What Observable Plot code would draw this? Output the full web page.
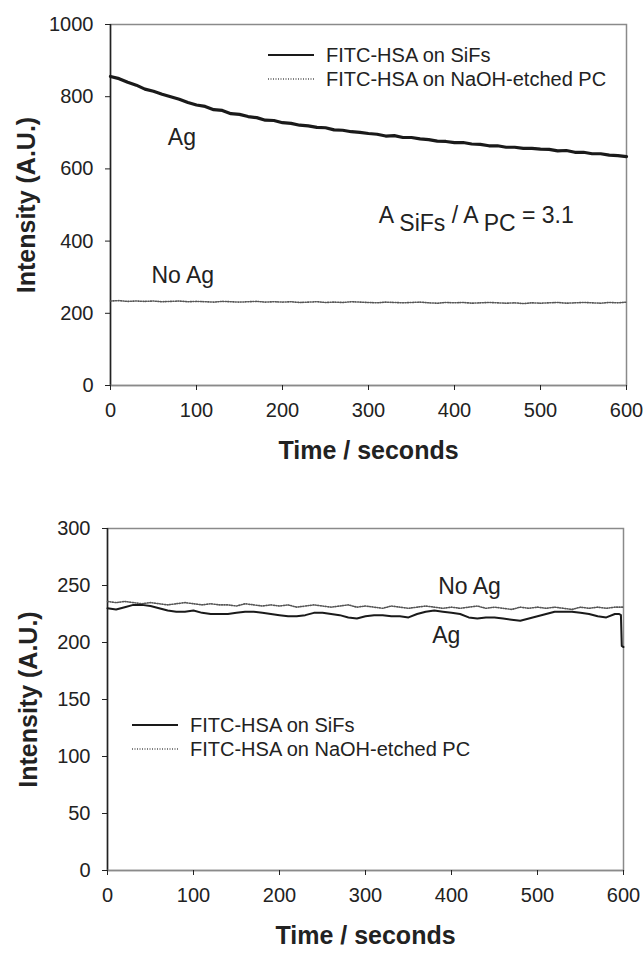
<!DOCTYPE html>
<html>
<head>
<meta charset="utf-8">
<script src="https://cdn.jsdelivr.net/npm/d3@7"></script>
<script src="https://cdn.jsdelivr.net/npm/@observablehq/plot@0.6"></script>
<style>
  body { margin: 0; background: #fff; }
  #wrap { position: relative; width: 643px; height: 966px; font-family: "Liberation Sans", Arial, sans-serif; color: #222; }
  .legend { position: absolute; font-size: 20px; line-height: 24px; color: #222; }
  .legend .row { display: flex; align-items: center; white-space: nowrap; }
  .legend svg { margin-right: 12px; }
</style>
</head>
<body>
<div id="wrap"></div>
<script>
// ---------- data ----------
const xTicks = [0, 100, 200, 300, 400, 500, 600];
const yTicksTop = [0, 200, 400, 600, 800, 1000];
const yTicksBottom = [0, 50, 100, 150, 200, 250, 300];
const seriesNames = ["FITC-HSA on SiFs", "FITC-HSA on NaOH-etched PC"];

const timeTop = [0,10,20,30,40,50,60,70,80,90,100,110,120,130,140,150,160,170,180,190,200,210,220,230,240,250,260,270,280,290,300,310,320,330,340,350,360,370,380,390,400,410,420,430,440,450,460,470,480,490,500,510,520,530,540,550,560,570,580,590,600];
const sifsTop = [856,850,840,832,821,815,807,800,793,784,777,773,764,762,753,751,745,742,735,734,728,726,721,719,715,714,708,707,703,701,698,696,691,692,687,687,683,681,677,676,673,673,669,668,664,664,660,660,657,657,655,654,650,651,646,646,642,642,638,637,634];
const pcTop = [234,235,233,234,233,234,232,233,234,232,233,232,231,233,232,231,232,233,231,232,231,232,230,231,232,230,231,230,232,231,230,229,231,230,229,230,231,229,228,230,229,230,228,229,230,229,228,229,227,229,228,229,230,228,229,230,229,228,230,229,231];

const timeBottomSifs = [0,10,20,30,40,50,60,70,80,90,100,110,120,130,140,150,160,170,180,190,200,210,220,230,240,250,260,270,280,290,300,310,320,330,340,350,360,370,380,390,400,410,420,430,440,450,460,470,480,490,500,510,520,530,540,550,560,570,580,590,595,597,598,600];
const sifsBottom = [230,229,231,233,233,232,230,228,227,227,228,226,225,225,225,226,227,227,226,225,224,223,223,224,226,226,225,224,222,221,223,224,224,223,223,222,225,227,228,227,226,225,222,221,222,222,221,220,219,221,223,225,227,227,227,226,225,223,222,225,225,224,197,196];
const timeBottomPc = [0,10,20,30,40,50,60,70,80,90,100,110,120,130,140,150,160,170,180,190,200,210,220,230,240,250,260,270,280,290,300,310,320,330,340,350,360,370,380,390,400,410,420,430,440,450,460,470,480,490,500,510,520,530,540,550,560,570,580,590,600];
const pcBottom = [236,235,236,235,234,235,234,233,234,235,234,233,234,233,233,232,234,233,232,233,232,233,231,232,233,232,231,232,233,231,232,231,230,232,231,230,231,232,231,230,231,230,231,232,230,231,230,229,231,230,231,230,231,230,229,231,230,231,230,231,231];

const annotTop = [
  {label: "Ag", x: 83, y: 687},
  {label: "No Ag", x: 84, y: 305}
];
const ratioTop = [{label: "A SiFs / A PC = 3.1", x: 312, y: 471}];
const annotBottom = [
  {label: "No Ag", x: 421, y: 249},
  {label: "Ag", x: 394, y: 206}
];

// ---------- helpers ----------
const toRows = (t, v) => t.map((d, i) => ({t: d, v: v[i]}));
const FONT = "Liberation Sans, Arial, sans-serif";

function makeChart({height, margins, yDomain, yTicks, sifs, pc, annots, solidWidth, titleDx, extra = []}) {
  return Plot.plot({
    width: 643,
    height,
    marginTop: margins[0], marginRight: margins[1], marginBottom: margins[2], marginLeft: margins[3],
    style: {fontFamily: FONT, fontSize: "20px", color: "#222", background: "#fff", overflow: "visible"},
    x: {domain: [0, 600]},
    y: {domain: yDomain},
    marks: [
      Plot.frame({stroke: "#8a8a8a", strokeWidth: 1.5}),
      Plot.ruleX([0], {stroke: "#222", strokeWidth: 1.5}),
      Plot.ruleY([yDomain[0]], {stroke: "#8a8a8a", strokeWidth: 1.5}),
      Plot.axisY({ticks: yTicks, tickSize: 5, tickPadding: 12, label: null, tickFormat: d => String(d), stroke: "#222"}),
      Plot.axisX({ticks: xTicks, tickSize: 5, tickPadding: 12, label: null, tickFormat: d => String(d), stroke: "#222"}),
      Plot.line(pc, {x: "t", y: "v", stroke: "#555", strokeWidth: 1.6, strokeDasharray: "1,1.5"}),
      Plot.line(sifs, {x: "t", y: "v", stroke: "#1a1a1a", strokeWidth: solidWidth}),
      Plot.text(annots, {x: "x", y: "y", text: "label", fontSize: 23, fill: "#222", textAnchor: "middle", lineAnchor: "middle"}),
      Plot.text(["Intensity (A.U.)"], {frameAnchor: "left", dx: titleDx, rotate: -90, fontSize: 25, fontWeight: "bold", fill: "#222", textAnchor: "middle", lineAnchor: "middle"}),
      Plot.text(["Time / seconds"], {frameAnchor: "bottom", dy: 65, fontSize: 25, fontWeight: "bold", fill: "#222", textAnchor: "middle", lineAnchor: "middle"}),
      ...extra
    ]
  });
}

const wrap = document.getElementById("wrap");

const topChart = makeChart({
  height: 480,
  margins: [24, 17, 95, 110],
  yDomain: [0, 1000],
  yTicks: yTicksTop,
  sifs: toRows(timeTop, sifsTop),
  pc: toRows(timeTop, pcTop),
  annots: annotTop,
  solidWidth: 3.2,
  titleDx: -84,
  extra: [Plot.text(ratioTop, {x: "x", y: "y", text: "label", fontSize: 23, fill: "#222", textAnchor: "start", lineAnchor: "middle", className: "ratio"})]
});
topChart.style.display = "block";
wrap.appendChild(topChart);

const bottomChart = makeChart({
  height: 486,
  margins: [48, 20, 96, 107],
  yDomain: [0, 300],
  yTicks: yTicksBottom,
  sifs: toRows(timeBottomSifs, sifsBottom),
  pc: toRows(timeBottomPc, pcBottom),
  annots: annotBottom,
  solidWidth: 2,
  titleDx: -79
});
bottomChart.style.display = "block";
wrap.appendChild(bottomChart);

// subscripts in ratio annotation
d3.select(topChart).selectAll("g.ratio text").each(function () {
  const t = d3.select(this);
  t.text(null);
  const parts = [["A ", 0], ["SiFs", 8], [" / A ", -8], ["PC", 8], [" = 3.1", -8]];
  parts.forEach(([s, dy]) => t.append("tspan").attr("dy", dy).text(s));
});

// legends (HTML overlay)
function legend(left, topPx) {
  const div = document.createElement("div");
  div.className = "legend";
  div.style.left = left + "px";
  div.style.top = topPx + "px";
  seriesNames.forEach((name, i) => {
    const row = document.createElement("div");
    row.className = "row";
    const dash = i === 0 ? "" : 'stroke-dasharray="1,1.5"';
    const col = i === 0 ? "#1a1a1a" : "#555";
    const w = i === 0 ? 2 : 1.6;
    row.innerHTML = `<svg width="46" height="10"><line x1="0" x2="46" y1="5" y2="5" stroke="${col}" stroke-width="${w}" ${dash}/></svg><span>${name}</span>`;
    div.appendChild(row);
  });
  wrap.appendChild(div);
}
legend(268, 43);
legend(132, 713);
</script>
</body>
</html>
